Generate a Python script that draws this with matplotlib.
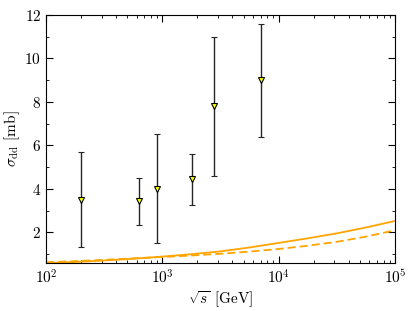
import numpy as np
import matplotlib
matplotlib.use("Agg")
import matplotlib.pyplot as plt
from matplotlib.ticker import LogLocator, MultipleLocator, NullFormatter

plt.rcParams["font.family"] = "serif"
plt.rcParams["font.serif"] = ["cmr10", "DejaVu Serif"]
plt.rcParams["mathtext.fontset"] = "cm"
plt.rcParams["axes.formatter.use_mathtext"] = True

# measured points
sqrt_s = [200, 630, 900, 1800, 2760, 7000]
sigma_dd = [3.5, 3.45, 4.0, 4.45, 7.8, 9.0]
err_lo = [1.3, 2.33, 1.5, 3.25, 4.6, 6.4]
err_hi = [5.7, 4.5, 6.5, 5.6, 11.0, 11.6]

# model curves, read at log10(sqrt s)
log_s_curve = [2.0, 2.25, 2.5, 2.75, 3.0, 3.25, 3.5, 3.75, 4.0, 4.25, 4.5, 4.75, 5.0]
model_solid = [0.58, 0.63, 0.70, 0.78, 0.88, 0.99, 1.12, 1.30, 1.51, 1.72, 1.95, 2.22, 2.52]
model_dashed = [0.62, 0.67, 0.73, 0.80, 0.86, 0.93, 1.01, 1.11, 1.23, 1.38, 1.56, 1.80, 2.09]

fig = plt.figure(figsize=(4.15, 3.11), dpi=100)
ax = fig.add_axes([0.111, 0.154, 0.841, 0.798])

x_curve = 10 ** np.array(log_s_curve)
ax.plot(x_curve, model_solid, color="orange", lw=1.3)
ax.plot(x_curve, model_dashed, color="orange", lw=1.3, ls=(0, (4.5, 2.2)))

y = np.array(sigma_dd)
yerr = [y - np.array(err_lo), np.array(err_hi) - y]
ax.errorbar(sqrt_s, y, yerr=yerr, fmt="v", color="0.15", ecolor="0.15",
            elinewidth=1.0, capsize=2, capthick=1.0,
            markerfacecolor="yellow", markeredgecolor="black",
            markersize=5, markeredgewidth=0.8)

ax.set_xscale("log")
ax.set_xlim(1e2, 1e5)
ax.set_ylim(0.58, 12)
ax.yaxis.set_major_locator(MultipleLocator(2))
ax.yaxis.set_minor_locator(MultipleLocator(1))
ax.xaxis.set_major_locator(LogLocator(base=10, numticks=10))
ax.xaxis.set_minor_locator(LogLocator(base=10, subs=np.arange(2, 10), numticks=10))
ax.xaxis.set_minor_formatter(NullFormatter())

ax.tick_params(which="both", direction="in", top=True, right=True, labelsize=11)
ax.tick_params(which="major", length=5)
ax.tick_params(which="minor", length=2.5)

ax.set_xlabel(r"$\sqrt{s}$ [GeV]", fontsize=11, labelpad=2)
ax.set_ylabel(r"$\sigma_{\rm dd}$ [mb]", fontsize=11, labelpad=2)

fig.savefig("out.png", dpi=100)
